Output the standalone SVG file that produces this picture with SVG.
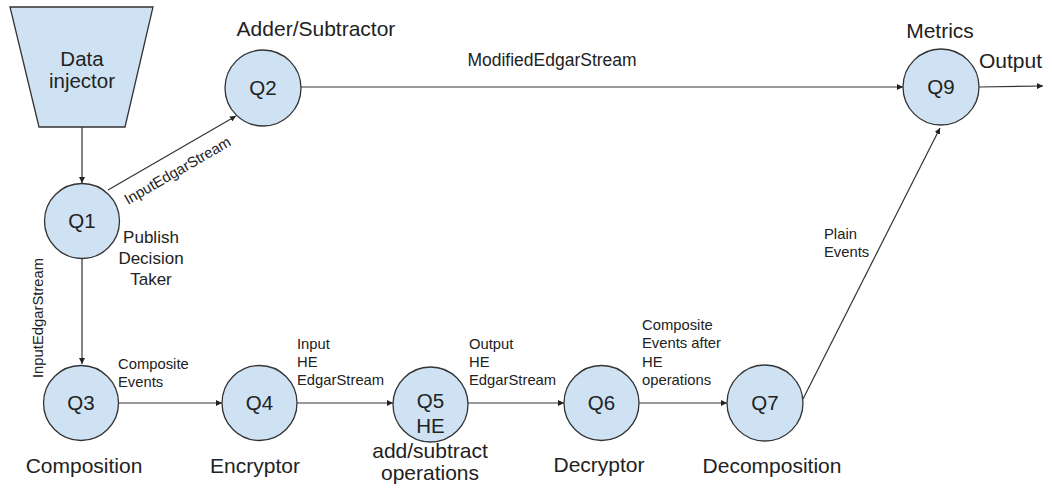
<svg xmlns="http://www.w3.org/2000/svg" width="1052" height="488" viewBox="0 0 1052 488">
  <defs>
    <marker id="arrow" viewBox="0 0 10 10" refX="10" refY="5" markerWidth="6" markerHeight="6" markerUnits="userSpaceOnUse" orient="auto">
      <path d="M0,0 L10,5 L0,10 z" fill="#222"/>
    </marker>
    <style>
      .node { fill: #cfe2f3; stroke: #333; stroke-width: 1.3; }
      .edge { fill: none; stroke: #333; stroke-width: 1.2; marker-end: url(#arrow); }
      text { font-family: "Liberation Sans", Arial, sans-serif; fill: #222; }
      .id { font-size: 20.5px; text-anchor: middle; }
      .name { font-size: 21px; text-anchor: middle; }
      .lbl { font-size: 14.8px; }
    </style>
  </defs>

  <rect width="1052" height="488" fill="#fff"/>

  <!-- connectors and their labels -->
  <g id="connectors">
    <line class="edge" x1="82" y1="127" x2="82" y2="183"/>
    <line class="edge" x1="108" y1="190" x2="236" y2="116"/>
    <line class="edge" x1="82" y1="259" x2="82" y2="364"/>
    <line class="edge" x1="301" y1="87" x2="903" y2="87"/>
    <line class="edge" x1="979" y1="87" x2="1043" y2="86"/>
    <line class="edge" x1="118" y1="403" x2="222" y2="403"/>
    <line class="edge" x1="297" y1="403" x2="393" y2="403"/>
    <line class="edge" x1="468" y1="403" x2="564" y2="403"/>
    <line class="edge" x1="639" y1="403" x2="727" y2="403"/>
    <line class="edge" x1="803" y1="399" x2="940" y2="128"/>

    <text class="lbl" transform="translate(128,205) rotate(-30)">InputEdgarStream</text>
    <text class="lbl" transform="translate(43,378) rotate(-90)">InputEdgarStream</text>
    <text class="lbl" x="552" y="66" text-anchor="middle" style="font-size:17.5px">ModifiedEdgarStream</text>
    <text class="lbl" x="979" y="68" style="font-size:21px">Output</text>
    <text class="lbl" x="118" y="369">Composite</text>
    <text class="lbl" x="118" y="387">Events</text>
    <text class="lbl" x="297" y="349">Input</text>
    <text class="lbl" x="297" y="367">HE</text>
    <text class="lbl" x="297" y="385">EdgarStream</text>
    <text class="lbl" x="469" y="349">Output</text>
    <text class="lbl" x="469" y="367">HE</text>
    <text class="lbl" x="469" y="385">EdgarStream</text>
    <text class="lbl" x="642" y="330">Composite</text>
    <text class="lbl" x="642" y="348">Events after</text>
    <text class="lbl" x="642" y="367">HE</text>
    <text class="lbl" x="642" y="385">operations</text>
    <text class="lbl" x="824" y="239">Plain</text>
    <text class="lbl" x="824" y="257">Events</text>
  </g>

  <!-- source -->
  <g id="data-injector">
    <polygon class="node" points="10,7 153,7 125,127 39,127"/>
    <text class="id" x="82" y="66">Data</text>
    <text class="id" x="82" y="88">injector</text>
  </g>

  <g id="q1">
    <circle class="node" cx="82" cy="221" r="37.5"/>
    <text class="id" x="82" y="228">Q1</text>
    <text class="name" x="151" y="243" style="font-size:17px">Publish</text>
    <text class="name" x="151" y="264" style="font-size:17px">Decision</text>
    <text class="name" x="151" y="285" style="font-size:17px">Taker</text>
  </g>

  <g id="q2">
    <circle class="node" cx="263" cy="88" r="38"/>
    <text class="id" x="263" y="95">Q2</text>
    <text class="name" x="316" y="36">Adder/Subtractor</text>
  </g>

  <g id="q3">
    <circle class="node" cx="81" cy="403" r="37.5"/>
    <text class="id" x="81" y="410">Q3</text>
    <text class="name" x="84" y="473">Composition</text>
  </g>

  <g id="q4">
    <circle class="node" cx="259.5" cy="403" r="37.5"/>
    <text class="id" x="259.5" y="410">Q4</text>
    <text class="name" x="255" y="473">Encryptor</text>
  </g>

  <g id="q5">
    <circle class="node" cx="430.5" cy="404.5" r="37.5"/>
    <text class="id" x="430.5" y="408">Q5</text>
    <text class="id" x="430.5" y="433">HE</text>
    <text class="name" x="430" y="458">add/subtract</text>
    <text class="name" x="430" y="480">operations</text>
  </g>

  <g id="q6">
    <circle class="node" cx="601.5" cy="403" r="37.5"/>
    <text class="id" x="601.5" y="410">Q6</text>
    <text class="name" x="599" y="472">Decryptor</text>
  </g>

  <g id="q7">
    <circle class="node" cx="765" cy="403" r="38"/>
    <text class="id" x="765" y="410">Q7</text>
    <text class="name" x="772" y="473">Decomposition</text>
  </g>

  <g id="q9">
    <circle class="node" cx="941" cy="87" r="38"/>
    <text class="id" x="941" y="94">Q9</text>
    <text class="name" x="940" y="38">Metrics</text>
  </g>
</svg>
